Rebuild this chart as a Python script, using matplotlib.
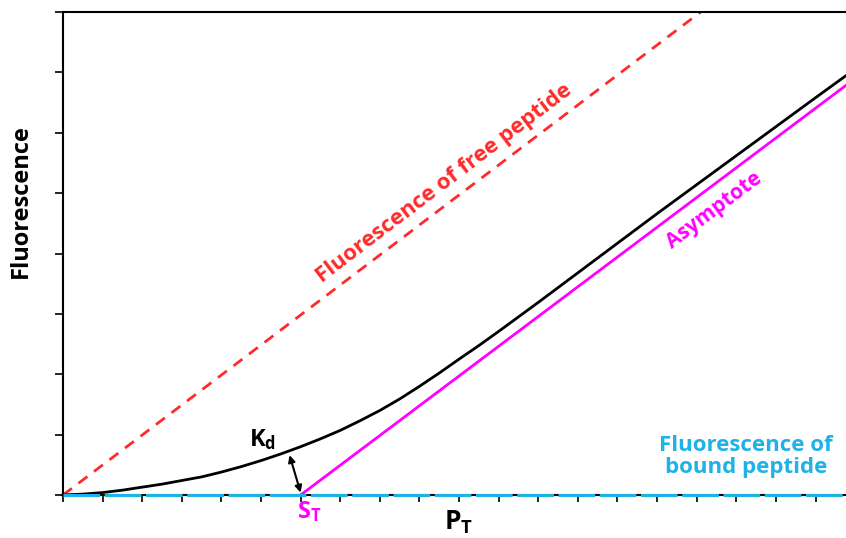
import numpy as np
import matplotlib
matplotlib.use("Agg")
from matplotlib import pyplot as plt

plt.rcParams['font.family'] = ['Open Sans', 'DejaVu Sans']
plt.rcParams['mathtext.fontset'] = 'custom'
plt.rcParams['mathtext.bf'] = 'Open Sans:bold'
plt.rcParams['mathtext.rm'] = 'Open Sans'

# values (x in tick units, y in tick units)
curve_x = [0, 0.5, 1, 1.5, 2, 2.5, 3, 3.5, 4, 4.5, 5, 5.5, 6, 6.5, 7, 7.5, 8, 8.5,
           9, 9.5, 10, 10.5, 11, 12, 13, 14, 15, 16, 17, 18, 19, 19.8]
curve_y = [0, 0.015, 0.04, 0.08, 0.13, 0.18, 0.24, 0.30, 0.38, 0.47, 0.57, 0.68,
           0.80, 0.93, 1.07, 1.23, 1.40, 1.59, 1.80, 2.02, 2.25, 2.475, 2.71,
           3.19, 3.68, 4.17, 4.66, 5.14, 5.62, 6.10, 6.58, 6.96]

free_x = [0, 16.1]
free_y = [0, 8]

asym_x = [6, 19.8]
asym_y = [0, 6.80]

bound_x = [0, 19.8]
bound_y = [0, 0]

s_t = 6

red = '#FF2A2A'
magenta = '#FF00FF'
cyan = '#1FB2E6'

fig = plt.figure(figsize=(8.46, 5.38), dpi=100)
ax = fig.add_axes([63/846, 43/538, 1 - 63/846, 483/538])

#lines
ax.plot(free_x, free_y, color=red, lw=2, dashes=(4, 3), clip_on=False)
ax.plot(bound_x, bound_y, color=cyan, lw=2.2, dashes=(12, 1.5), clip_on=False, zorder=5)
ax.plot(asym_x, asym_y, color=magenta, lw=2, clip_on=False)
ax.plot(curve_x, curve_y, color='black', lw=2, clip_on=False)

# Kd arrow
ax.annotate('', xy=(6.0, 0.04), xytext=(5.72, 0.66),
            arrowprops=dict(arrowstyle='<|-|>', color='black', lw=1.5,
                            mutation_scale=10, shrinkA=0, shrinkB=0))
ax.text(5.05, 0.92, r'$\mathbf{K_d}$', fontsize=17, ha='center', va='center')

# labels on the lines
ax.text(9.62, 5.17, 'Fluorescence of free peptide', color=red, fontsize=16,
        fontweight='bold', rotation=37.2, ha='center', va='center', rotation_mode='anchor')
ax.text(16.45, 4.72, 'Asymptote', color=magenta, fontsize=15,
        fontweight='bold', rotation=36.8, ha='center', va='center', rotation_mode='anchor')
ax.text(17.25, 0.64, 'Fluorescence of\nbound peptide', color=cyan, fontsize=16,
        fontweight='bold', ha='center', va='center', linespacing=1.1)

ax.text(s_t + 0.22, -0.28, r'$\mathbf{S_T}$', color=magenta, fontsize=17,
        ha='center', va='center', clip_on=False)
ax.text(10.0, -0.45, r'$\mathbf{P_T}$', color='black', fontsize=19,
        ha='center', va='center', clip_on=False)
ax.set_ylabel('Fluorescence', fontsize=17, fontweight='bold')
ax.yaxis.set_label_coords(-0.039, 0.608)

ax.set_xlim(0, 19.77)
ax.set_ylim(0, 8)
ax.set_xticks(np.arange(0, 20, 1))
ax.set_yticks(np.arange(0, 9, 1))
ax.set_xticklabels([])
ax.set_yticklabels([])
ax.tick_params(axis='x', direction='out', length=5, width=1.2)
ax.tick_params(axis='y', direction='out', length=6, width=1.2)
ax.spines['right'].set_visible(False)
for s in ['left', 'top', 'bottom']:
    ax.spines[s].set_linewidth(1.5)

fig.savefig('out.png', dpi=100)
